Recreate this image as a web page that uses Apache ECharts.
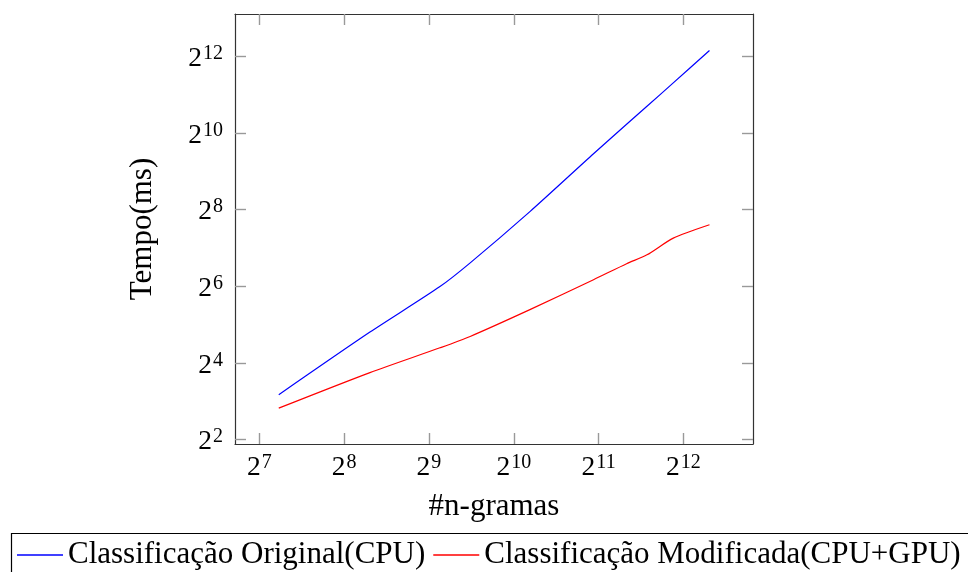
<!DOCTYPE html>
<html>
<head>
<meta charset="utf-8">
<script src="https://cdn.jsdelivr.net/npm/echarts@6/dist/echarts.min.js"></script>
<style>
  html, body { margin: 0; padding: 0; background: #fff; }
  #chart { width: 968px; height: 572px; }
</style>
</head>
<body>
<div id="chart"></div>
<script>
// Number of n-grams (x) and measured time in ms (y) for both classifiers
const nGramas = [150, 316, 560, 717, 1168, 1964, 2574, 3040, 3769, 5067];
const tempoCPU = [8.98, 27.9, 63.6, 97.7, 247, 704, 1201, 1664, 2540, 4566];
const tempoCPUGPU = [7.04, 13.4, 21.0, 25.8, 41.9, 72.0, 96.3, 113, 153, 195];

// Exponents of base 2 where ticks are drawn
const xTickExps = [7, 8, 9, 10, 11, 12];
const yTickExps = [2, 4, 6, 8, 10, 12];

const seriesNames = ['Classificação Original(CPU)', 'Classificação Modificada(CPU+GPU)'];

const serif = '"Liberation Serif", "DejaVu Serif", serif';

// Both axes are logarithmic in base 2: plot exponents, label as 2^n
const toLog = (xs, ys) => xs.map((x, i) => [Math.log2(x), Math.log2(ys[i])]);

const powLabel = {
  formatter: v => '{b|2}{s|' + Math.round(v) + '}',
  rich: {
    b: { fontFamily: serif, fontSize: 27.5, lineHeight: 30, color: '#000' },
    s: { fontFamily: serif, fontSize: 20, lineHeight: 10, verticalAlign: 'top', color: '#000', padding: [0, 0, 0, 1] }
  }
};

const frameLine = { show: true, onZero: false, lineStyle: { color: '#333', width: 1.2 } };
const tickStyle = { lineStyle: { color: '#999', width: 1.4 } };

const xMin = 6.713, xMax = 12.82;
const yMin = 1.88, yMax = 13.11;

const chart = echarts.init(document.getElementById('chart'), null, { renderer: 'canvas' });

chart.setOption({
  animation: false,
  backgroundColor: '#fff',
  grid: { left: 235, top: 14, width: 518, height: 430, containLabel: false },
  xAxis: [
    {
      type: 'value', position: 'bottom', min: xMin, max: xMax,
      name: '#n-gramas', nameLocation: 'middle', nameGap: 47,
      nameTextStyle: { fontFamily: serif, fontSize: 31, color: '#000' },
      axisLine: frameLine,
      axisTick: Object.assign({ show: true, inside: true, length: 11, customValues: xTickExps }, tickStyle),
      axisLabel: Object.assign({ margin: 9, customValues: xTickExps }, powLabel),
      splitLine: { show: false }
    },
    {
      type: 'value', position: 'top', min: xMin, max: xMax,
      axisLine: frameLine,
      axisTick: Object.assign({ show: true, inside: true, length: 11, customValues: xTickExps }, tickStyle),
      axisLabel: { show: false },
      splitLine: { show: false }
    }
  ],
  yAxis: [
    {
      type: 'value', position: 'left', min: yMin, max: yMax,
      name: 'Tempo(ms)', nameLocation: 'middle', nameGap: 77,
      nameTextStyle: { fontFamily: serif, fontSize: 31, color: '#000' },
      axisLine: frameLine,
      axisTick: Object.assign({ show: true, inside: true, length: 11, customValues: yTickExps }, tickStyle),
      axisLabel: Object.assign({ margin: 12, customValues: yTickExps, padding: [5, 0, 0, 0] }, powLabel),
      splitLine: { show: false }
    },
    {
      type: 'value', position: 'right', min: yMin, max: yMax,
      axisLine: frameLine,
      axisTick: Object.assign({ show: true, inside: true, length: 11, customValues: yTickExps }, tickStyle),
      axisLabel: { show: false },
      splitLine: { show: false }
    }
  ],
  legend: {
    left: 17, top: 537, padding: 0,
    icon: 'rect', itemWidth: 46, itemHeight: 1.5, itemGap: 8,
    textStyle: { fontFamily: serif, fontSize: 31, lineHeight: 36, color: '#000' },
    data: seriesNames
  },
  graphic: [
    {
      type: 'rect', left: 9, top: 531, silent: true,
      shape: { width: 1000, height: 100 },
      style: { fill: 'none', stroke: '#000', lineWidth: 1.2 }
    }
  ],
  series: [
    {
      name: seriesNames[0], type: 'line', xAxisIndex: 0, yAxisIndex: 0,
      data: toLog(nGramas, tempoCPU), smooth: 0.25,
      symbol: 'none', color: '#0000ff', lineStyle: { width: 1.2, color: '#0000ff' }
    },
    {
      name: seriesNames[1], type: 'line', xAxisIndex: 0, yAxisIndex: 0,
      data: toLog(nGramas, tempoCPUGPU), smooth: 0.25,
      symbol: 'none', color: '#ff0000', lineStyle: { width: 1.2, color: '#ff0000' }
    }
  ]
});
</script>
</body>
</html>
